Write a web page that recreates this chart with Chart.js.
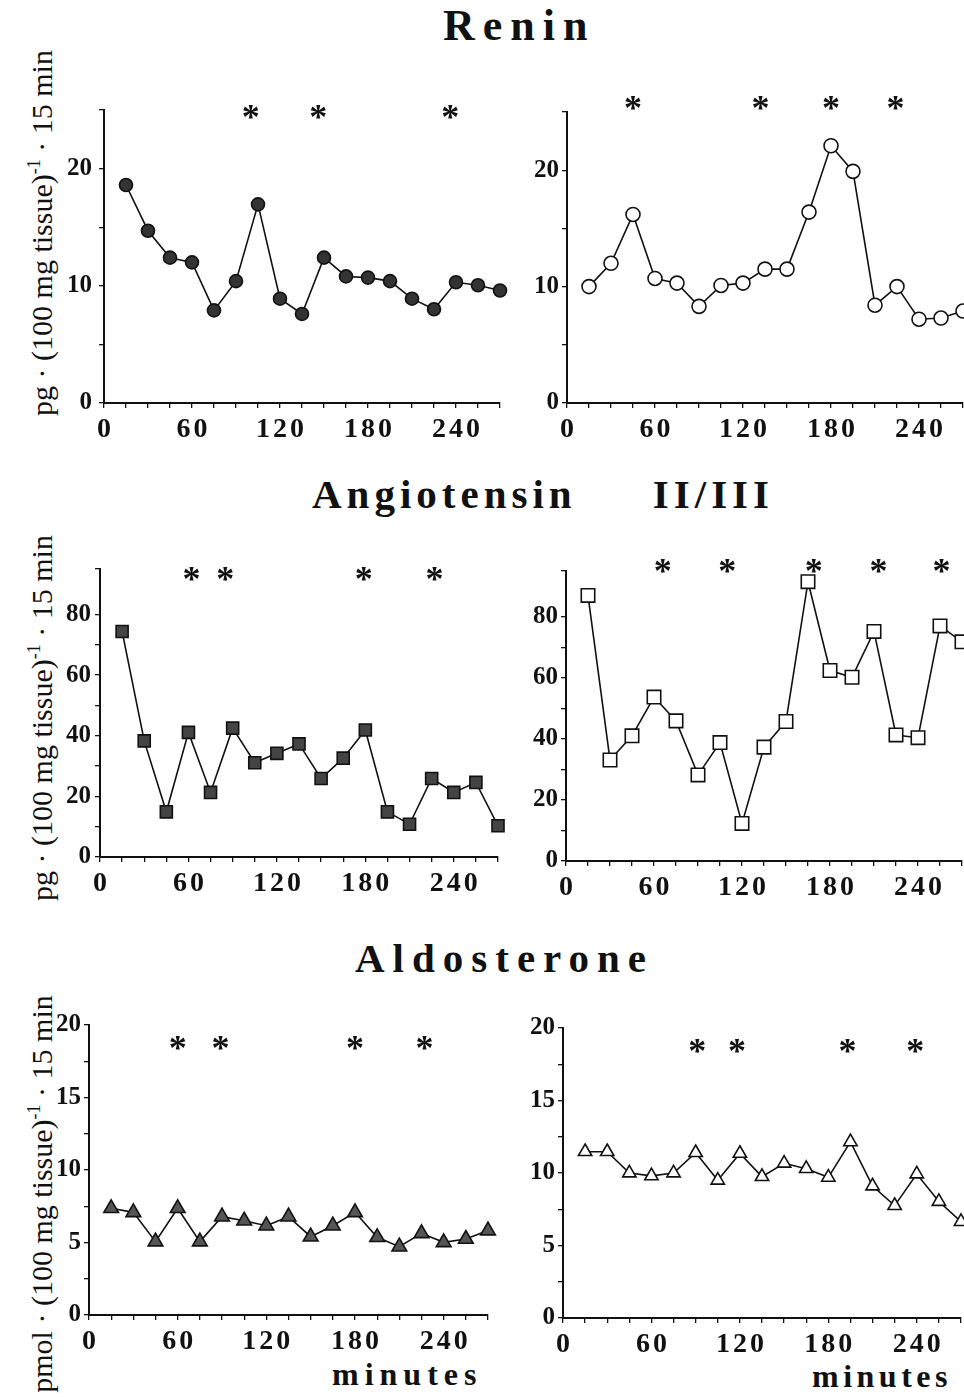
<!DOCTYPE html>
<html><head><meta charset="utf-8">
<script src="https://cdn.jsdelivr.net/npm/chart.js@4.4.1/dist/chart.umd.min.js"></script>
<style>
html,body{margin:0;padding:0;background:#fff;}
#wrap{position:relative;width:964px;height:1397px;overflow:hidden;background:#fff;}
canvas{position:absolute;}
.title{position:absolute;font-family:"Liberation Serif","DejaVu Serif",serif;font-weight:bold;color:#111;white-space:pre;line-height:1;}
.ytitle{position:absolute;font-family:"Liberation Serif","DejaVu Serif",serif;color:#111;white-space:pre;line-height:1;transform:translate(-50%,-50%) rotate(-90deg);}
.ytitle sup{font-size:0.6em;line-height:0;vertical-align:0.65em;}
</style></head>
<body><div id="wrap">
<div class="title" style="left:443px;top:4px;font-size:44px;letter-spacing:8px;">Renin</div>
<div class="title" style="left:312px;top:474px;font-size:41px;letter-spacing:5px;">Angiotensin     II/III</div>
<div class="title" style="left:355px;top:938px;font-size:41px;letter-spacing:8px;">Aldosterone</div>
<div class="ytitle" style="left:42px;top:233px;font-size:30px;">pg · (100 mg tissue)<sup>-1</sup> · 15 min</div>
<div class="ytitle" style="left:42px;top:718px;font-size:30px;">pg · (100 mg tissue)<sup>-1</sup> · 15 min</div>
<div class="ytitle" style="left:42px;top:1194px;font-size:30px;">pmol · (100 mg tissue)<sup>-1</sup> · 15 min</div>
<div class="title" style="left:332px;top:1358px;font-size:32px;letter-spacing:6px;">minutes</div>
<div class="title" style="left:812px;top:1360px;font-size:32px;letter-spacing:4.5px;">minutes</div>
</div>
<script>
// ---- data ----
const minutes = [15,30,45,60,75,90,105,120,135,150,165,180,195,210,225,240,255,270];
const xTickLabels = [0,60,120,180,240];

const reninLeft  = [18.6,14.7,12.4,12.0,7.9,10.4,16.95,8.9,7.6,12.4,10.8,10.7,10.4,8.9,8.0,10.3,10.05,9.6];
const reninRight = [10.0,12.0,16.2,10.7,10.3,8.3,10.1,10.3,11.5,11.5,16.4,22.1,19.9,8.4,10.0,7.2,7.3,7.9];
const angLeft    = [74.4,38.3,14.9,41.1,21.3,42.5,31.1,34.2,37.3,25.9,32.6,41.9,14.9,10.8,25.9,21.3,24.6,10.3];
const angRight   = [87.0,33.1,41.0,53.7,45.9,28.2,38.8,12.3,37.3,45.7,91.5,62.4,60.2,75.2,41.3,40.4,77.0,71.8];
const aldoLeft   = [7.36,7.08,5.06,7.36,5.06,6.78,6.5,6.16,6.78,5.4,6.16,7.08,5.36,4.71,5.63,5.01,5.24,5.82];
const aldoRight  = [11.47,11.47,10.0,9.8,10.0,11.4,9.5,11.35,9.75,10.67,10.3,9.7,12.15,9.1,7.75,9.93,8.03,6.65];

const reninLeftStars  = [100,146,236];
const reninRightStars = [45,132,180,224];
const angLeftStars    = [62,85,179,227];
const angRightStars   = [66,110,169,213,256];
const aldoLeftStars   = [60,89,180,227];
const aldoRightStars  = [91,118,193,239];

const reninYTicks = [0,10,20];
const angYTicks   = [0,20,40,60,80];
const aldoYTicks  = [0,5,10,15,20];

// ---- plugins ----
const FONT = '"Liberation Serif","DejaVu Serif",serif';
const starPlugin = {
  id:'stars',
  afterDatasetsDraw(chart, args, opts){
    const ctx = chart.ctx, xs = chart.scales.x, ys = chart.scales.y;
    ctx.save();
    ctx.font = 'bold 36px ' + FONT;
    ctx.textAlign = 'center';
    ctx.textBaseline = 'alphabetic';
    ctx.fillStyle = '#111';
    opts.xs.forEach(v => ctx.fillText('*', xs.getPixelForValue(v), ys.getPixelForValue(opts.y) + 18));
    ctx.restore();
  }
};
const xLabelPlugin = {
  id:'xlab',
  afterDraw(chart){
    const ctx = chart.ctx, s = chart.scales.x;
    ctx.save();
    ctx.font = 'bold 28px ' + FONT;
    try { ctx.letterSpacing = '3px'; } catch(e) {}
    ctx.fillStyle = '#111';
    ctx.textAlign = 'center';
    ctx.textBaseline = 'top';
    s.ticks.forEach(t => {
      if (!xTickLabels.includes(t.value)) return;
      ctx.fillText(String(t.value), s.getPixelForValue(t.value) + 1.5, s.top + 13);
    });
    ctx.restore();
  }
};

// ---- panels ----
const panels = [
  {values:reninLeft,  stars:reninLeftStars,  starY:24.9, ymax:25, ystep:5,   yt:reninYTicks, area:{l:104,r:500,t:110,b:403}, style:'circle',   r:6.5, fill:'#333', ypad:7},
  {values:reninRight, stars:reninRightStars, starY:25.9, ymax:25, ystep:5,   yt:reninYTicks, area:{l:567,r:963,t:112,b:403}, style:'circle',   r:7,   fill:'#fff', ypad:3},
  {values:angLeft,    stars:angLeftStars,    starY:93.7, ymax:95, ystep:10,  yt:angYTicks,   area:{l:100,r:498,t:569,b:857}, style:'rect',     r:8.5, fill:'#444', ypad:4},
  {values:angRight,   stars:angRightStars,   starY:97,   ymax:95, ystep:10,  yt:angYTicks,   area:{l:566,r:962,t:571,b:861}, style:'rect',     r:9.5, fill:'#fff', ypad:3},
  {values:aldoLeft,   stars:aldoLeftStars,   starY:18.8, ymax:20, ystep:2.5, yt:aldoYTicks,  area:{l:89, r:488,t:1025,b:1315}, style:'triangle', r:8.5, fill:'#555', ypad:3},
  {values:aldoRight,  stars:aldoRightStars,  starY:18.8, ymax:20, ystep:2.5, yt:aldoYTicks,  area:{l:563,r:961,t:1028,b:1318}, style:'triangle', r:7.7, fill:'#fff', ypad:3}
];

const wrap = document.getElementById('wrap');
panels.forEach(p => {
  const yw = 60, padTop = 30, padRight = 14, xh = 55;
  const left = p.area.l - yw, top = p.area.t - padTop;
  const width = p.area.r - left + padRight, height = p.area.b - top + xh;
  const cv = document.createElement('canvas');
  cv.style.left = left + 'px'; cv.style.top = top + 'px';
  cv.style.width = width + 'px'; cv.style.height = height + 'px';
  cv.width = width; cv.height = height;
  wrap.appendChild(cv);
  new Chart(cv, {
    type:'line',
    data:{datasets:[{
      data:p.values.map((v,i)=>({x:minutes[i], y:v})),
      borderColor:'#111', borderWidth:1.6, tension:0,
      pointStyle:p.style, pointRadius:p.r, pointHoverRadius:p.r,
      pointBackgroundColor:p.fill, pointBorderColor:'#111', pointBorderWidth:1.6,
      clip:false
    }]},
    options:{
      responsive:false, animation:false, devicePixelRatio:1,
      layout:{padding:{top:padTop, right:padRight, left:0, bottom:0}},
      plugins:{legend:{display:false}, tooltip:{enabled:false}, stars:{xs:p.stars, y:p.starY}},
      scales:{
        x:{type:'linear', min:0, max:270,
           afterFit(s){ s.height = xh; },
           ticks:{stepSize:15, autoSkip:false, maxRotation:0, minRotation:0, color:'rgba(0,0,0,0)',
                  font:{family:FONT, size:28, weight:'bold'},
                  callback:v => xTickLabels.includes(v) ? String(v) : ''},
           grid:{drawOnChartArea:false, color:'#111', tickLength:5, lineWidth:1.3},
           border:{color:'#111', width:2}},
        y:{type:'linear', min:0, max:p.ymax,
           afterFit(s){ s.width = yw; },
           ticks:{stepSize:p.ystep, autoSkip:false, color:'#111', padding:p.ypad,
                  font:{family:FONT, size:25, weight:'bold'},
                  callback:v => p.yt.includes(v) ? String(v) : ''},
           grid:{drawOnChartArea:false, color:'#111', tickLength:5, lineWidth:1.3},
           border:{color:'#111', width:2}}
      }
    },
    plugins:[starPlugin, xLabelPlugin]
  });
});
</script>
</body></html>
